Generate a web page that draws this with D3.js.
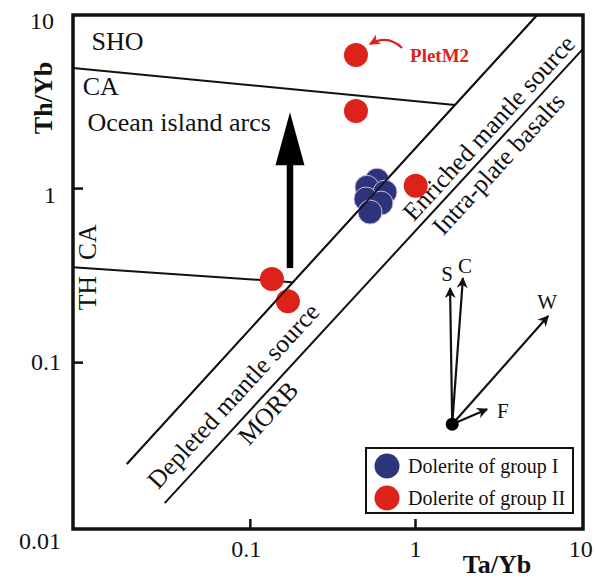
<!DOCTYPE html>
<html>
<head>
<meta charset="utf-8">
<script src="https://cdn.jsdelivr.net/npm/d3@7"></script>
<style>
  html, body { margin: 0; padding: 0; background: #fff; }
  svg { display: block; }
  text { font-family: "Liberation Serif", "Times New Roman", serif; fill: #111; }
</style>
</head>
<body>
<svg id="chart" width="595" height="579"></svg>
<script>
// ---------- data ----------
const xTickLabels = ["0.1", "1", "10"];
const xTickValues = [0.1, 1, 10];
const yTickLabels = ["0.01", "0.1", "1", "10"];
const yTickValues = [0.01, 0.1, 1, 10];

// Dolerite of group I (blue)
const groupI_TaYb = [0.589, 0.512, 0.658, 0.505, 0.622, 0.534];
const groupI_ThYb = [1.11, 1.01, 0.948, 0.865, 0.820, 0.728];

// Dolerite of group II (red)
const groupII_TaYb = [0.439, 0.439, 1.01, 0.136, 0.170];
const groupII_ThYb = [5.81, 2.77, 1.03, 0.30, 0.224];

// field boundary lines [Ta/Yb, Th/Yb]
const lineSHO_CA = [[0.0085, 4.9], [1.747, 3.0]];
const lineCA_TH = [[0.0085, 0.351], [0.18, 0.288]];
const lineUpper = [[0.018, 0.026], [5.49, 9.87]];
const lineLower = [[0.0305, 0.0155], [10.4, 6.3]];

// big arrow (subduction component)
const bigArrow = [[0.175, 0.347], [0.175, 2.73]];

// vectors from origin
const vecOrigin = [1.68, 0.044];
const vecNames = ["S", "C", "W", "F"];
const vecTips = [[1.63, 0.266], [1.95, 0.304], [6.40, 0.184], [2.73, 0.0537]];

// annotation anchors
const fieldLabels = [
  { t: "SHO", p: [0.0110, 6.21], rot: 0, anchor: "start" },
  { t: "CA", p: [0.00973, 3.42], rot: 0, anchor: "start" },
  { t: "Ocean island arcs", p: [0.0104, 2.13], rot: 0, anchor: "start" },
  { t: "CA", p: [0.0104, 0.489], rot: -90, anchor: "middle" },
  { t: "TH", p: [0.0104, 0.249], rot: -90, anchor: "middle" },
  { t: "Enriched mantle source", p: [2.8, 2.22], rot: -47.5, anchor: "middle" },
  { t: "Intra-plate basalts", p: [3.2, 1.38], rot: -47.5, anchor: "middle" },
  { t: "Depleted mantle source", p: [0.0795, 0.064], rot: -47.5, anchor: "middle" },
  { t: "MORB", p: [0.129, 0.051], rot: -47.5, anchor: "middle" }
];
const pletLabel = { t: "PletM2", p: [0.933, 5.81] };

const legendItems = ["Dolerite of group I", "Dolerite of group II"];

// ---------- drawing ----------
const RED = "#dc2219";
const BLUE = "#2c347c";

const svg = d3.select("#chart");
const L = 73, R = 583, T = 15, B = 529;

const x = d3.scaleLog().domain([0.0085, 10.4]).range([L, R]);
const y = d3.scaleLog().domain([0.011, 9.87]).range([B, T]);

const defs = svg.append("defs");
function marker(id, color, w, h) {
  defs.append("marker").attr("id", id).attr("viewBox", "0 0 10 10")
    .attr("refX", 9).attr("refY", 5).attr("markerUnits", "userSpaceOnUse")
    .attr("markerWidth", w).attr("markerHeight", h).attr("orient", "auto")
    .append("path").attr("d", "M0,0 L10,5 L0,10 L3,5 Z").attr("fill", color);
}
marker("ah", "#111", 13, 11);
marker("ahRed", RED, 12, 11);

// boundary lines
const lineGen = d3.line().x(d => x(d[0])).y(d => y(d[1]));
[lineSHO_CA, lineCA_TH, lineUpper, lineLower].forEach(l => {
  svg.append("path").attr("d", lineGen(l)).attr("fill", "none")
    .attr("stroke", "#111").attr("stroke-width", 2);
});

// field labels
fieldLabels.forEach(f => {
  const px = x(f.p[0]), py = y(f.p[1]);
  const t = svg.append("text").attr("x", px).attr("y", py)
    .attr("text-anchor", f.anchor).attr("font-size", f.rot === 0 ? 26 : 25.5)
    .attr("dominant-baseline", f.rot === 0 ? "alphabetic" : "central")
    .text(f.t);
  if (f.rot !== 0) t.attr("transform", `rotate(${f.rot},${px},${py})`);
});

// big arrow
{
  const ax = x(bigArrow[0][0]);
  const y0 = y(bigArrow[0][1]), y1 = y(bigArrow[1][1]);
  const headLen = 53, headHalf = 14.5;
  svg.append("line").attr("x1", ax).attr("x2", ax).attr("y1", y0).attr("y2", y1 + headLen - 2)
    .attr("stroke", "#000").attr("stroke-width", 6.5);
  svg.append("path")
    .attr("d", `M${ax},${y1} L${ax + headHalf},${y1 + headLen} L${ax - headHalf},${y1 + headLen} Z`)
    .attr("fill", "#000");
}

// vectors
const ox = x(vecOrigin[0]), oy = y(vecOrigin[1]);
vecTips.forEach((v, i) => {
  svg.append("line").attr("x1", ox).attr("y1", oy).attr("x2", x(v[0])).attr("y2", y(v[1]))
    .attr("stroke", "#111").attr("stroke-width", 2.2).attr("marker-end", "url(#ah)");
});
const vecLabelOff = [[-3, -14], [2, -12], [-1, -14], [10, 2]];
vecNames.forEach((n, i) => {
  svg.append("text").attr("x", x(vecTips[i][0]) + vecLabelOff[i][0])
    .attr("y", y(vecTips[i][1]) + vecLabelOff[i][1])
    .attr("text-anchor", i === 3 ? "start" : "middle")
    .attr("dominant-baseline", "central").attr("font-size", 21).text(n);
});
svg.append("circle").attr("cx", ox).attr("cy", oy).attr("r", 6.5).attr("fill", "#000");

// data points
const rPt = 12;
svg.append("g").selectAll("circle").data(groupII_TaYb.map((d, i) => [d, groupII_ThYb[i]]))
  .join("circle").attr("cx", d => x(d[0])).attr("cy", d => y(d[1])).attr("r", rPt)
  .attr("fill", RED);
svg.append("g").selectAll("circle").data(groupI_TaYb.map((d, i) => [d, groupI_ThYb[i]]))
  .join("circle").attr("cx", d => x(d[0])).attr("cy", d => y(d[1])).attr("r", rPt)
  .attr("fill", BLUE).attr("stroke", "#d6b8d6").attr("stroke-width", 1);

// upper line drawn again across the blue cluster
svg.append("path").attr("d", lineGen(lineUpper)).attr("fill", "none")
  .attr("stroke", "#111").attr("stroke-width", 1.6);

// PletM2 label and curved arrow
{
  const px = x(pletLabel.p[0]), py = y(pletLabel.p[1]);
  svg.append("text").attr("x", px).attr("y", py).attr("dominant-baseline", "central")
    .attr("font-size", 19).attr("font-weight", "bold").style("fill", RED).text(pletLabel.t);
  const sx = px - 8, sy = py - 7;
  svg.append("path")
    .attr("d", `M${sx},${sy} Q${sx - 14},${sy - 14} ${sx - 32},${sy - 4}`)
    .attr("fill", "none").attr("stroke", RED).attr("stroke-width", 2.2)
    .attr("marker-end", "url(#ahRed)");
}

// frame
svg.append("rect").attr("x", L).attr("y", T).attr("width", R - L).attr("height", B - T)
  .attr("fill", "none").attr("stroke", "#111").attr("stroke-width", 3.5);

// y axis
const yAxis = d3.axisLeft(y).tickValues(yTickValues)
  .tickFormat((d, i) => yTickLabels[i]).tickSize(0).tickPadding(12);
const gy = svg.append("g").attr("transform", `translate(${L},0)`).call(yAxis);
gy.select(".domain").remove();
gy.selectAll("text").attr("font-size", 24).style("font-family", "'Liberation Serif', serif")
  .attr("fill", "#111");
gy.selectAll(".tick").filter(d => d === 0.1 || d === 1).append("line")
  .attr("x1", 0).attr("x2", 10).attr("stroke", "#111").attr("stroke-width", 2.5);
gy.selectAll(".tick").filter(d => d === 0.01).select("text").attr("dy", "0.5em");
gy.selectAll(".tick").filter(d => d === 10).select("text").attr("dy", "0.6em").attr("x", -19);
gy.selectAll(".tick").filter(d => d === 1).select("text").attr("dy", "0.6em").attr("x", -17);

// x axis
const xAxis = d3.axisBottom(x).tickValues(xTickValues)
  .tickFormat((d, i) => xTickLabels[i]).tickSize(0).tickPadding(11);
const gx = svg.append("g").attr("transform", `translate(0,${B})`).call(xAxis);
gx.select(".domain").remove();
gx.selectAll("text").attr("font-size", 24).style("font-family", "'Liberation Serif', serif")
  .attr("fill", "#111");
gx.selectAll(".tick").filter(d => d === 0.1 || d === 1).append("line")
  .attr("y1", 0).attr("y2", -10).attr("stroke", "#111").attr("stroke-width", 2.5);
gx.selectAll(".tick").filter(d => d === 0.1).select("text").attr("x", -4);

// axis titles
svg.append("text").attr("x", 497).attr("y", 573).attr("text-anchor", "middle")
  .attr("font-size", 26).attr("font-weight", "bold").text("Ta/Yb");
svg.append("text").attr("transform", "translate(52,98) rotate(-90)").attr("text-anchor", "middle")
  .attr("font-size", 26).attr("font-weight", "bold").text("Th/Yb");

// legend
{
  const lg = svg.append("g");
  lg.append("rect").attr("x", 366).attr("y", 448).attr("width", 207).attr("height", 65)
    .attr("fill", "#fff").attr("stroke", "#111").attr("stroke-width", 2);
  const colors = [BLUE, RED];
  legendItems.forEach((t, i) => {
    const cy = 466 + i * 32;
    lg.append("circle").attr("cx", 387).attr("cy", cy).attr("r", 12.5).attr("fill", colors[i]);
    lg.append("text").attr("x", 408).attr("y", cy).attr("dominant-baseline", "central")
      .attr("font-size", 20).text(t);
  });
}
</script>
</body>
</html>
